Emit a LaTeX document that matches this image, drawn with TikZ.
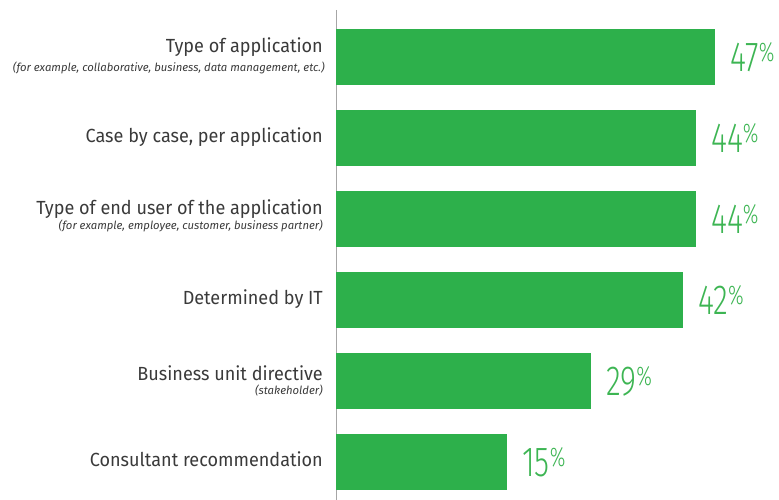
\documentclass[tikz,border=0pt]{standalone}
\usepackage{fontspec}
\usepackage{graphicx}
\setmainfont{Fira Sans}
\newfontfamily\pctfont{Fira Sans Light}
\definecolor{barg}{HTML}{2DB04B}
\definecolor{labg}{HTML}{3A3A3A}
\definecolor{pctg}{HTML}{3DB553}
\newcommand\narrow[1]{\scalebox{0.95}[1]{#1}}

\begin{document}
\begin{tikzpicture}[x=1pt,y=1pt,
  lab/.style={anchor=base east,text=labg,inner sep=0pt,font=\fontsize{19}{19}\selectfont},
  sub/.style={anchor=base east,text=labg,inner sep=0pt,font=\fontsize{11.3}{11.3}\selectfont\itshape},
  pct/.style={anchor=base west,text=pctg,inner sep=0pt,font=\fontsize{42}{42}\pctfont}]
\useasboundingbox (0,0) rectangle (779,500);
\draw[gray!70,line width=1pt] (336,490)--(336,0);
\foreach \y/\r/\p [count=\i] in {443/715/47,362/696/44,281/696/44,200/683/42,119/591/29,38/507/15}{
\fill[barg] (336,\y-28) rectangle (\r,\y+28);
\node[pct] (p\i) at (\r+15,\y-15) {\scalebox{0.73}[1]{\p\raisebox{10pt}{\fontsize{27}{27}\selectfont\%}}};
}
\node[lab] (t1) at (323,447) {\narrow{Type of application}};
\node[sub] (s1) at (325,428) {(for example, collaborative, business, data management, etc.)};
\node[lab] (t2) at (323,357) {\narrow{Case by case, per application}};
\node[lab] (t3) at (323,285) {\narrow{Type of end user of the application}};
\node[sub] (s3) at (323,270) {(for example, employee, customer, business partner)};
\node[lab] (t4) at (323,195) {\narrow{Determined by IT}};
\node[lab] (t5) at (323,119) {\narrow{Business unit directive}};
\node[sub] (s5) at (323,105) {(stakeholder)};
\node[lab] (t6) at (323,33) {\narrow{Consultant recommendation}};
\end{tikzpicture}
\end{document}
